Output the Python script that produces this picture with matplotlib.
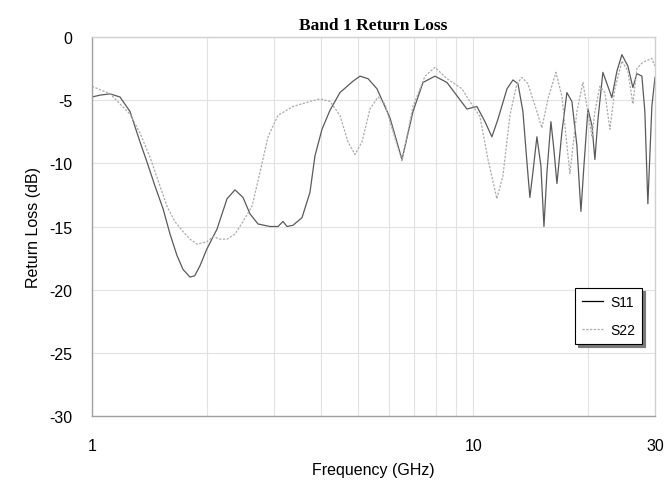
import matplotlib
matplotlib.use("Agg")
import matplotlib.pyplot as plt
from matplotlib.ticker import FixedLocator, NullFormatter

# S11 (frequency in GHz, return loss in dB)
s11_freq = [1.0, 1.05, 1.115, 1.184, 1.258, 1.336, 1.394, 1.463, 1.536, 1.602,
            1.671, 1.733, 1.807, 1.86, 1.92, 2.0, 2.128, 2.261, 2.372, 2.49,
            2.597, 2.726, 2.931, 3.076, 3.17, 3.248, 3.368, 3.556, 3.731, 3.846,
            4.013, 4.211, 4.472, 4.838, 5.047, 5.3, 5.594, 6.05, 6.505, 6.953,
            7.386, 7.941, 8.538, 9.632, 10.23, 10.74, 11.2, 11.62, 12.27, 12.72,
            13.11, 13.51, 13.84, 14.09, 14.35, 14.70, 15.06, 15.34, 15.62, 16.0,
            16.29, 16.59, 17.10, 17.62, 18.16, 18.72, 19.18, 19.53, 20.01, 20.50,
            20.87, 21.26, 21.90, 22.57, 23.12, 23.84, 24.57, 25.47, 26.25, 26.90,
            27.72, 28.22, 28.74, 29.44, 30.0]
s11_db = [-4.75, -4.6, -4.5, -4.75, -5.9, -8.3, -9.9, -11.8, -13.6, -15.6,
          -17.3, -18.4, -19.0, -18.9, -18.1, -16.8, -15.2, -12.8, -12.1, -12.7,
          -14.0, -14.8, -15.0, -15.0, -14.6, -15.0, -14.9, -14.3, -12.3, -9.4,
          -7.3, -5.8, -4.4, -3.5, -3.1, -3.3, -4.1, -6.4, -9.7, -5.9,
          -3.6, -3.1, -3.6, -5.7, -5.5, -6.7, -7.9, -6.5, -4.1, -3.4,
          -3.7, -5.9, -9.9, -12.7, -10.7, -7.9, -10.2, -15.0, -10.7, -6.7,
          -8.9, -11.6, -7.5, -4.4, -5.1, -8.6, -13.8, -10.2, -5.7, -7.0,
          -9.7, -6.5, -2.8, -3.9, -4.8, -2.7, -1.4, -2.3, -4.0, -2.9,
          -3.1, -5.9, -13.2, -5.5, -3.2]

# S22
s22_freq = [1.0, 1.115, 1.258, 1.336, 1.419, 1.50, 1.573, 1.65, 1.733, 1.807,
            1.886, 2.003, 2.077, 2.167, 2.261, 2.372, 2.49, 2.629, 2.759, 2.896,
            3.076, 3.368, 3.731, 3.964, 4.211, 4.472, 4.694, 4.897, 5.109, 5.362,
            5.628, 5.871, 6.05, 6.505, 6.953, 7.476, 7.941, 8.538, 9.346, 9.808,
            10.42, 10.94, 11.54, 11.97, 12.49, 13.03, 13.43, 13.92, 14.70, 15.15,
            15.71, 16.49, 17.10, 17.94, 18.72, 19.41, 19.89, 20.50, 20.87, 21.51,
            22.17, 22.85, 23.55, 24.57, 25.47, 26.25, 26.90, 27.89, 29.44, 30.0]
s22_db = [-3.9, -4.5, -6.1, -7.6, -9.5, -11.6, -13.4, -14.6, -15.4, -16.0,
          -16.4, -16.2, -15.8, -16.0, -16.0, -15.6, -14.6, -13.4, -10.7, -7.9,
          -6.2, -5.5, -5.1, -4.9, -5.1, -6.2, -8.3, -9.3, -8.3, -5.7,
          -4.75, -5.3, -6.7, -9.8, -5.5, -3.1, -2.4, -3.3, -4.1, -5.1,
          -6.3, -9.7, -12.8, -11.0, -6.2, -3.7, -3.2, -3.7, -5.9, -7.2,
          -4.9, -2.8, -4.7, -10.8, -5.9, -3.6, -5.5, -7.9, -5.9, -3.9,
          -4.4, -7.3, -4.1, -1.9, -2.7, -5.3, -2.5, -2.0, -1.7, -2.3]

x_ticks = [1, 10, 30]
x_minor = [2, 3, 4, 5, 6, 7, 8, 9, 20]
y_ticks = [0, -5, -10, -15, -20, -25, -30]

plt.rcParams["font.family"] = ["Liberation Sans", "DejaVu Sans"]

fig = plt.figure(figsize=(6.64, 4.89), dpi=100)
ax = fig.add_axes([0.1386, 0.1472, 0.8478, 0.7751])

ax.plot(s11_freq, s11_db, color="#5a5a5a", lw=0.9, label="S11")
ax.plot(s22_freq, s22_db, color="#ababab", lw=0.9, ls=(0, (1.8, 1.2)), label="S22")

ax.set_xscale("log")
ax.set_xlim(1, 30)
ax.set_ylim(-30, 0)
ax.xaxis.set_major_locator(FixedLocator(x_ticks))
ax.set_xticklabels([str(t) for t in x_ticks])
ax.xaxis.set_minor_locator(FixedLocator(x_minor))
ax.xaxis.set_minor_formatter(NullFormatter())
ax.set_yticks(y_ticks)
ax.set_yticklabels([str(t) for t in y_ticks])

ax.grid(True, which="both", color="#e2e2e2", lw=0.8)
ax.tick_params(which="both", length=0, labelsize=11.5)
ax.tick_params(axis="x", pad=16)
ax.tick_params(axis="y", pad=14)
for name, sp in ax.spines.items():
    sp.set_color("#a0a0a0")
    sp.set_linewidth(1.0)
ax.spines["top"].set_color("#d0d0d0")
ax.spines["right"].set_color("#d0d0d0")

ax.set_title("Band 1 Return Loss", family="Liberation Serif", fontweight="bold",
             fontsize=12.5, pad=6)
ax.set_xlabel("Frequency (GHz)", fontsize=11.5, labelpad=6)
ax.set_ylabel("Return Loss (dB)", fontsize=11.5, labelpad=6)

leg = ax.legend(loc="lower right", bbox_to_anchor=(0.977, 0.19), fontsize=10,
                fancybox=False, shadow={"color": "#7a7a7a", "alpha": 1.0},
                framealpha=1, edgecolor="black",
                handlelength=1.5, handletextpad=0.5, borderpad=0.5,
                labelspacing=1.0, borderaxespad=0)
leg.get_frame().set_linewidth(0.8)
leg.get_lines()[0].set_color("black")

fig.savefig("out.png", dpi=100)
